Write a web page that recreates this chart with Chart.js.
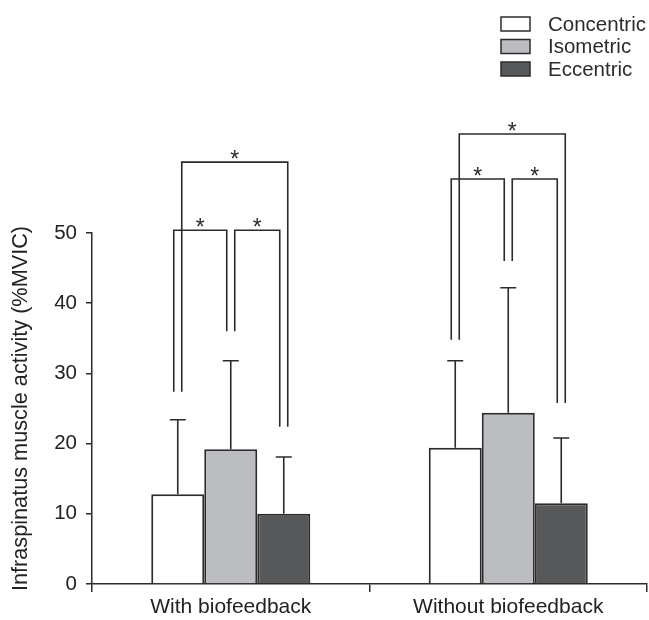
<!DOCTYPE html>
<html>
<head>
<meta charset="utf-8">
<script src="https://cdn.jsdelivr.net/npm/chart.js@4.4.1/dist/chart.umd.min.js"></script>
<style>
  html, body { margin: 0; padding: 0; background: #fff; }
  #wrap { width: 649px; height: 620px; position: relative; }
</style>
</head>
<body>
<div id="wrap"><canvas id="myChart" width="649" height="620"></canvas></div>
<script>
// data
let groups = ["With biofeedback", "Without biofeedback"]
let seriesNames = ["Concentric", "Isometric", "Eccentric"]
let concentric = [12.8, 19.4]
let isometric = [19.2, 24.4]
let eccentric = [10.0, 11.5]
let concentricSD = [10.6, 12.4]
let isometricSD = [12.6, 17.8]
let eccentricSD = [8.1, 9.3]
let yTicks = [0, 10, 20, 30, 40, 50]

// significance brackets: [group, fromSeries, toSeries, fromLegBottom, toLegBottom, barLevel]
let brackets = [
    [0, 0, 2, 27.4, 22.4, 60.1],
    [0, 0, 1, 27.4, 36.0, 50.4],
    [0, 1, 2, 36.0, 22.4, 50.4],
    [1, 0, 2, 34.8, 25.8, 64.1],
    [1, 0, 1, 34.8, 46.0, 57.7],
    [1, 1, 2, 46.0, 25.8, 57.7]
]

let fills = ["#ffffff", "#bcbdc0", "#57585a"]
let ink = "#2b2b2b"
let font = "'Liberation Sans', Arial, Helvetica, sans-serif"
let sds = [concentricSD, isometricSD, eccentricSD]

let extras = {
    id: "extras",
    afterDatasetsDraw(chart) {
        let ctx = chart.ctx
        let y = chart.scales.y
        ctx.save()
        ctx.strokeStyle = ink
        ctx.lineWidth = 1.6

        // error bars (upper only)
        chart.data.datasets.forEach((ds, di) => {
            let meta = chart.getDatasetMeta(di)
            meta.data.forEach((bar, i) => {
                let top = y.getPixelForValue(ds.data[i] + sds[di][i])
                ctx.beginPath()
                ctx.moveTo(bar.x, bar.y)
                ctx.lineTo(bar.x, top)
                ctx.moveTo(bar.x - 8, top)
                ctx.lineTo(bar.x + 8, top)
                ctx.stroke()
            })
        })

        // brackets with stars
        ctx.fillStyle = ink
        ctx.font = "23px " + font
        ctx.textAlign = "center"
        ctx.textBaseline = "alphabetic"
        brackets.forEach(b => {
            let [g, a, c, ya, yc, yt] = b
            let shift
            if (a == 0 && c == 2) shift = [4, 4]
            else if (a == 0) shift = [-4, -4]
            else shift = [4, -4]
            let xa = chart.getDatasetMeta(a).data[g].x + shift[0]
            let xc = chart.getDatasetMeta(c).data[g].x + shift[1]
            let top = y.getPixelForValue(yt)
            ctx.beginPath()
            ctx.moveTo(xa, y.getPixelForValue(ya))
            ctx.lineTo(xa, top)
            ctx.lineTo(xc, top)
            ctx.lineTo(xc, y.getPixelForValue(yc))
            ctx.stroke()
            ctx.fillText("*", (xa + xc) / 2, top + 5)
        })

        // legend top right
        ctx.font = "20.5px " + font
        ctx.textAlign = "left"
        ctx.textBaseline = "middle"
        ctx.lineWidth = 1.5
        seriesNames.forEach((name, i) => {
            let by = 17 + i * 22.5
            ctx.fillStyle = fills[i]
            ctx.fillRect(501, by, 29, 14)
            ctx.strokeRect(501, by, 29, 14)
            ctx.fillStyle = ink
            ctx.fillText(name, 548, by + 8)
        })
        ctx.restore()
    }
}

let datasets = seriesNames.map((name, i) => ({
    label: name,
    data: [concentric, isometric, eccentric][i],
    backgroundColor: fills[i],
    borderColor: ink,
    borderWidth: 2,
    barPercentage: 1,
    categoryPercentage: 0.573
}))

let mychart = document.getElementById("myChart").getContext("2d")
let chart = new Chart(mychart, {
    type: "bar",
    data: { labels: groups, datasets: datasets },
    options: {
        responsive: false,
        animation: false,
        layout: { padding: { left: 0, right: 2, top: 233, bottom: 0 } },
        plugins: { legend: { display: false }, tooltip: { enabled: false } },
        scales: {
            x: {
                afterFit(scale) { scale.height = 36 },
                grid: { drawOnChartArea: false, drawTicks: true, tickLength: 8, color: ink, lineWidth: 1.5, offset: true },
                border: { color: ink, width: 1.5 },
                ticks: { color: "#222", font: { family: font, size: 21 }, padding: 3, maxRotation: 0 }
            },
            y: {
                min: 0,
                max: 50,
                afterFit(scale) { scale.width = 92 },
                afterBuildTicks(scale) { scale.ticks = yTicks.map(v => ({ value: v })) },
                grid: { drawOnChartArea: false, drawTicks: true, tickLength: 6, color: ink, lineWidth: 1.5 },
                border: { color: ink, width: 1.5 },
                ticks: { color: "#222", font: { family: font, size: 20.5 }, padding: 9 },
                title: {
                    display: true,
                    text: "Infraspinatus muscle activity (%MVIC)",
                    color: "#222",
                    font: { family: font, size: 21.7 },
                    padding: { top: 8, bottom: 0 }
                }
            }
        }
    },
    plugins: [extras]
})
</script>
</body>
</html>
